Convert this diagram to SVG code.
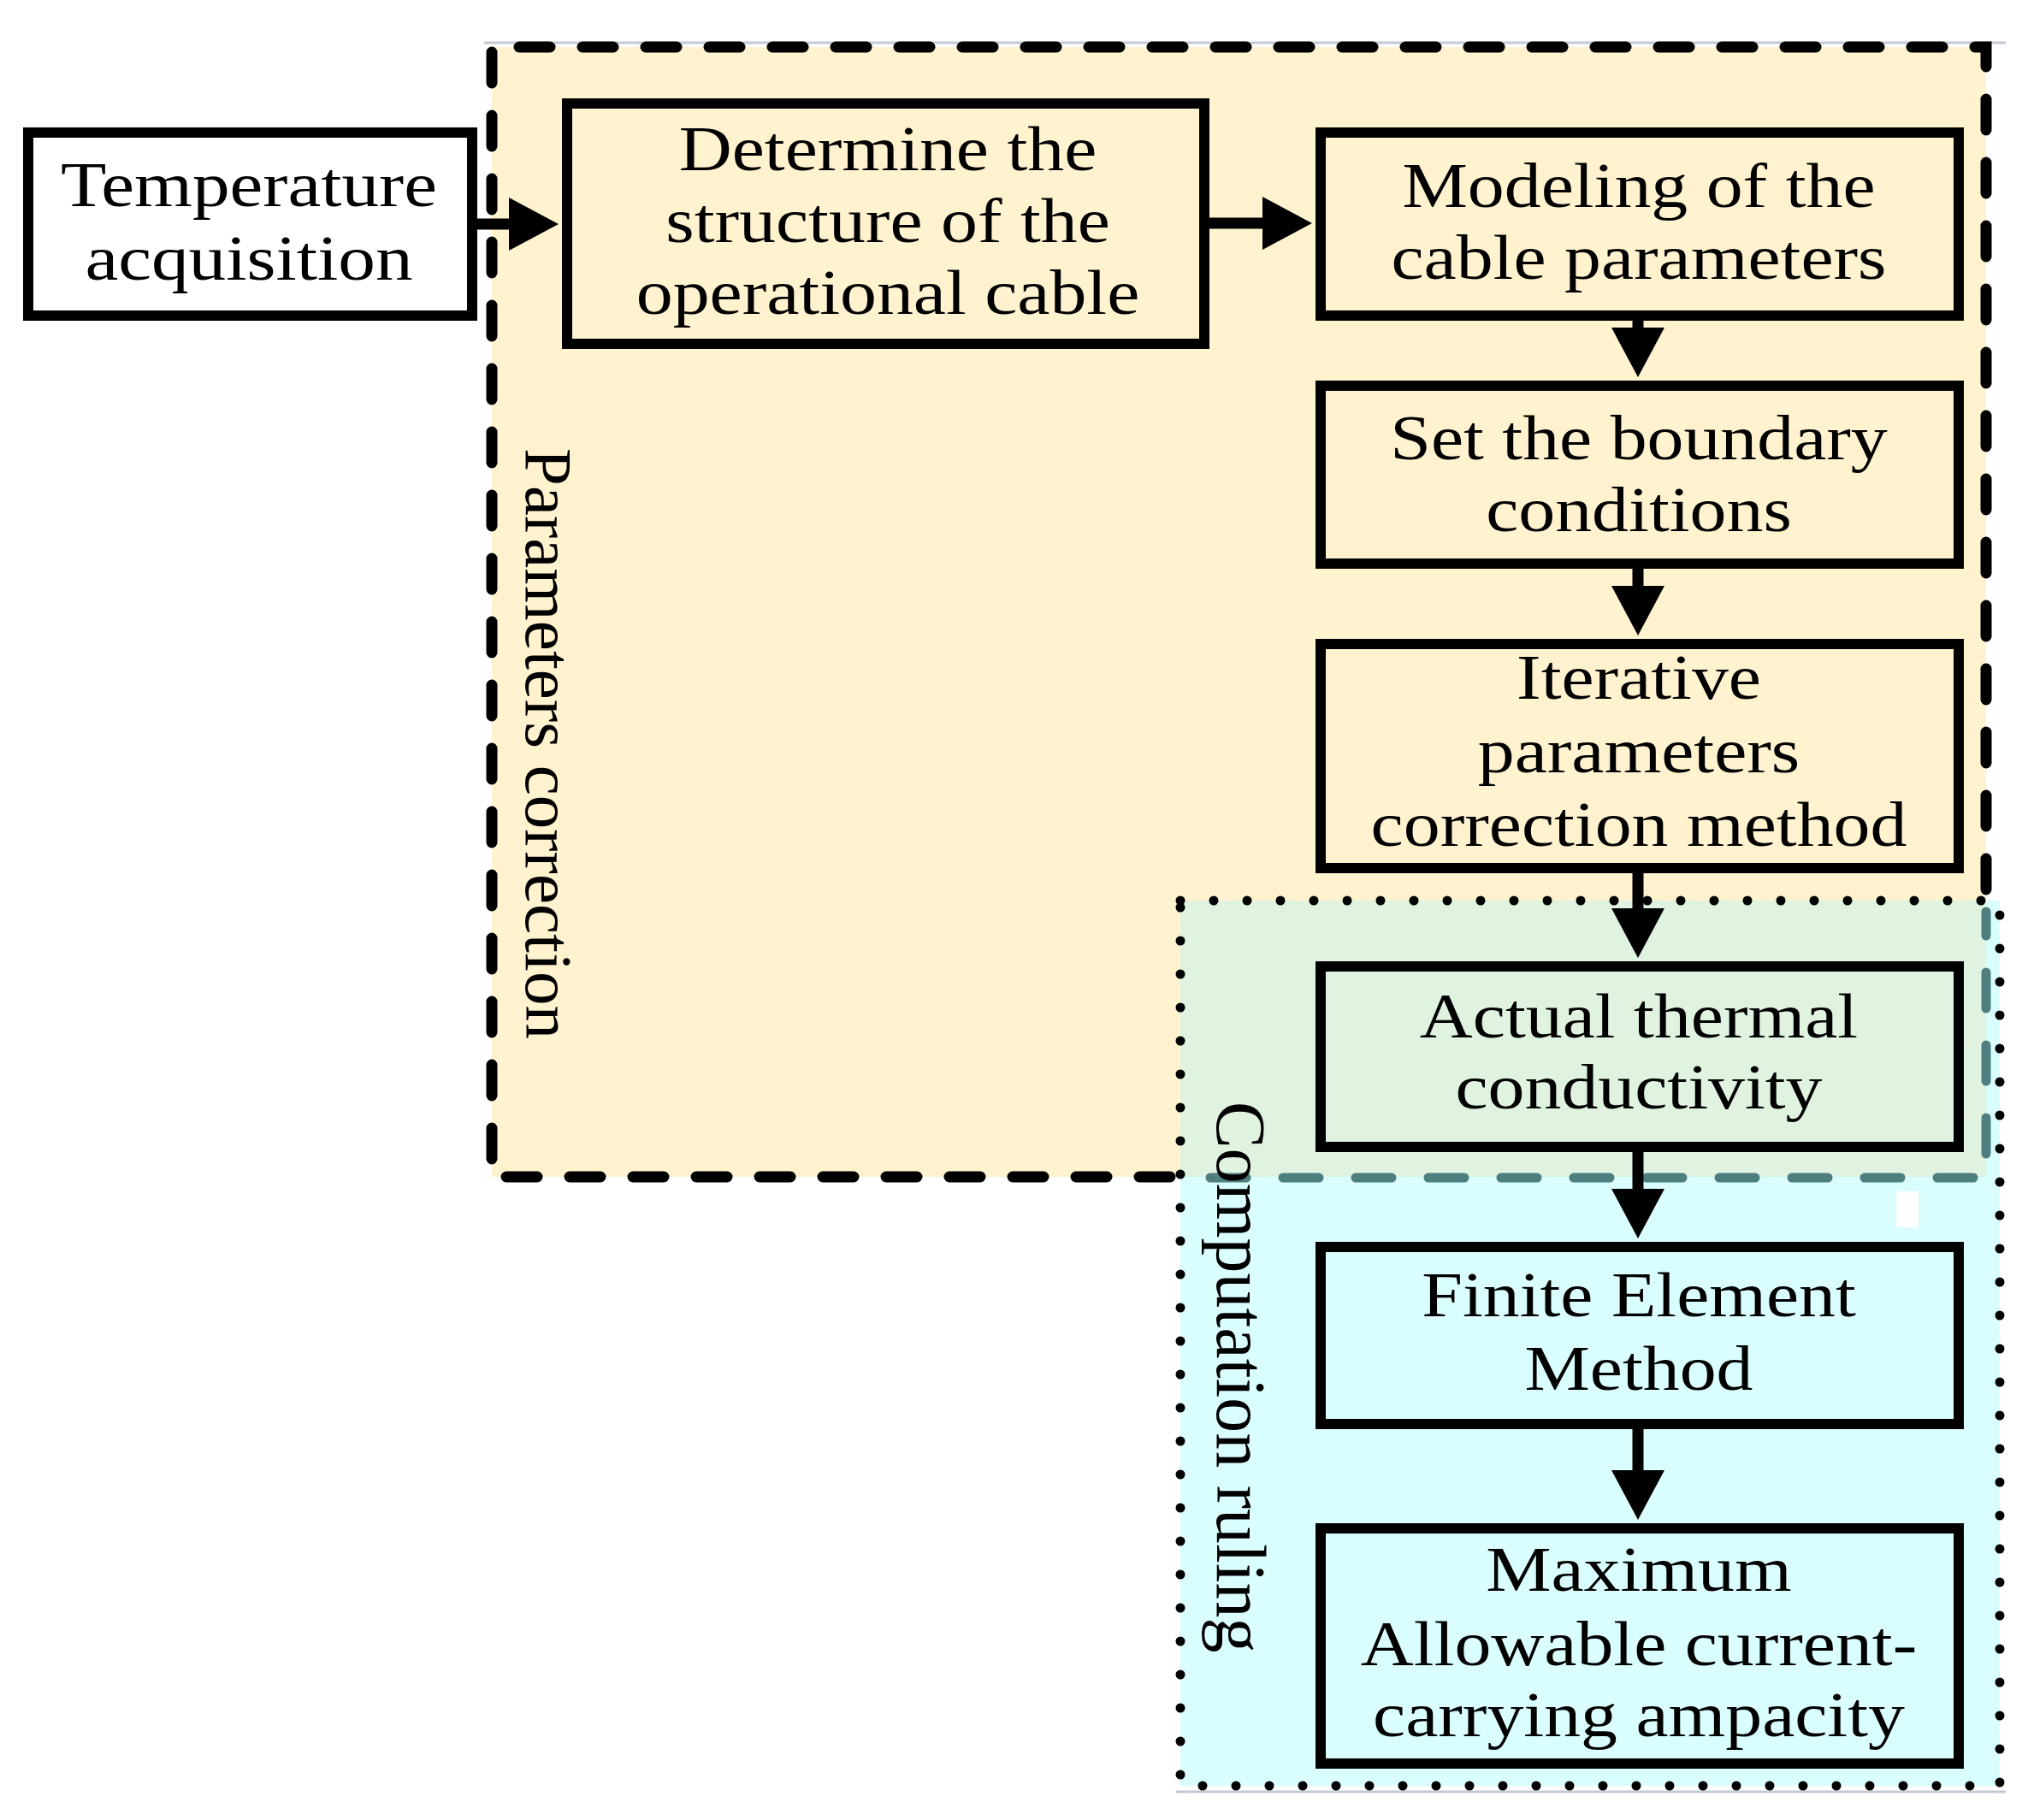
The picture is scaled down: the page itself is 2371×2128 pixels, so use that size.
<svg xmlns="http://www.w3.org/2000/svg" width="2371" height="2128" viewBox="0 0 2371 2128">
<style>
.box{stroke:#000;stroke-width:12;}
.lbl{font-family:"Liberation Serif","Times New Roman",serif;font-size:74px;text-anchor:middle;fill:#000;}
.side{font-family:"Liberation Serif","Times New Roman",serif;font-size:82px;fill:#000;}
.conn{stroke:#000;stroke-width:13;fill:none;marker-end:url(#ah);}
</style>
<defs>
<marker id="ah" markerUnits="userSpaceOnUse" markerWidth="62" markerHeight="62" refX="4" refY="31" orient="auto">
<path d="M0,0 L58,31 L0,62 Z" fill="#000"/>
</marker>
</defs>
<rect width="2371" height="2128" fill="#fff"/>
<g id="regions">
<rect x="575" y="55" width="1747" height="1321" fill="#FFF2CE"/>
<rect x="1380" y="1053" width="958" height="1035" fill="#DAFEFE"/>
<rect x="1380" y="1053" width="942" height="323" fill="#DFF3E0"/>
<line x1="566" y1="50" x2="2345" y2="50" stroke="#C3CAD4" stroke-width="3"/>
<line x1="1375" y1="2095" x2="2345" y2="2095" stroke="#C3CAD4" stroke-width="3"/>
<rect x="2217" y="1393" width="26" height="42" fill="#fff"/>
</g>
<g id="group-parameters-correction">
<path d="M2322,1040 L2322,55 L575,55 L575,1376 L1380,1376" fill="none" stroke="#000" stroke-width="13" stroke-dasharray="36 38" stroke-linecap="round"/>
<path d="M1415,1377 L2322,1377 L2322,1066" fill="none" stroke="#4F7E80" stroke-width="11" stroke-dasharray="42 43" stroke-linecap="round"/>
<text class="side" style="font-size:79px" transform="translate(615,524) rotate(90)">Parameters correction</text>
</g>
<g id="group-computation-ruling">
<rect x="1380" y="1053" width="958" height="1035" fill="none" stroke="#000" stroke-width="11" stroke-dasharray="0 39" stroke-linecap="round"/>
<text class="side" transform="translate(1423,1288) rotate(90)">Computation ruling</text>
</g>
<g id="connectors">
<line class="conn" x1="558" y1="262" x2="599" y2="262"/>
<line class="conn" x1="1414" y1="261" x2="1480" y2="261"/>
<line class="conn" x1="1915" y1="375" x2="1915" y2="387"/>
<line class="conn" x1="1915" y1="665" x2="1915" y2="689"/>
<line class="conn" x1="1915" y1="1021" x2="1915" y2="1066"/>
<line class="conn" x1="1915" y1="1347" x2="1915" y2="1394"/>
<line class="conn" x1="1915" y1="1671" x2="1915" y2="1723"/>
</g>
<g id="n-temperature">
<rect class="box" x="33" y="155" width="519" height="214" fill="#fff"/>
<text class="lbl" transform="translate(291,0) scale(1.18,1)"><tspan x="0" y="241">Temperature</tspan><tspan x="0" y="327">acquisition</tspan></text>
</g>
<g id="n-determine">
<rect class="box" x="663" y="121" width="745" height="281" fill="#FFF2CE"/>
<text class="lbl" transform="translate(1038,0) scale(1.16,1)"><tspan x="0" y="199">Determine the</tspan><tspan x="0" y="283">structure of the</tspan><tspan x="0" y="367">operational cable</tspan></text>
</g>
<g id="n-modeling">
<rect class="box" x="1544" y="155" width="746" height="214" fill="#FFF2CE"/>
<text class="lbl" transform="translate(1916,0) scale(1.16,1)"><tspan x="0" y="242">Modeling of the</tspan><tspan x="0" y="326">cable parameters</tspan></text>
</g>
<g id="n-boundary">
<rect class="box" x="1544" y="451" width="746" height="208" fill="#FFF2CE"/>
<text class="lbl" transform="translate(1916,0) scale(1.16,1)"><tspan x="0" y="537">Set the boundary</tspan><tspan x="0" y="621">conditions</tspan></text>
</g>
<g id="n-iterative">
<rect class="box" x="1544" y="753" width="746" height="262" fill="#FFF2CE"/>
<text class="lbl" transform="translate(1916,0) scale(1.16,1)"><tspan x="0" y="817">Iterative</tspan><tspan x="0" y="903">parameters</tspan><tspan x="0" y="989">correction method</tspan></text>
</g>
<g id="n-actual">
<rect class="box" x="1544" y="1130" width="746" height="211" fill="#DFF3E0"/>
<text class="lbl" transform="translate(1916,0) scale(1.16,1)"><tspan x="0" y="1213">Actual thermal</tspan><tspan x="0" y="1296">conductivity</tspan></text>
</g>
<g id="n-fem">
<rect class="box" x="1544" y="1458" width="746" height="207" fill="#DAFEFE"/>
<text class="lbl" transform="translate(1916,0) scale(1.16,1)"><tspan x="0" y="1539">Finite Element</tspan><tspan x="0" y="1625">Method</tspan></text>
</g>
<g id="n-maximum">
<rect class="box" x="1544" y="1787" width="746" height="275" fill="#DAFEFE"/>
<text class="lbl" transform="translate(1916,0) scale(1.16,1)"><tspan x="0" y="1860">Maximum</tspan><tspan x="0" y="1947">Allowable current-</tspan><tspan x="0" y="2030">carrying ampacity</tspan></text>
</g>
</svg>
